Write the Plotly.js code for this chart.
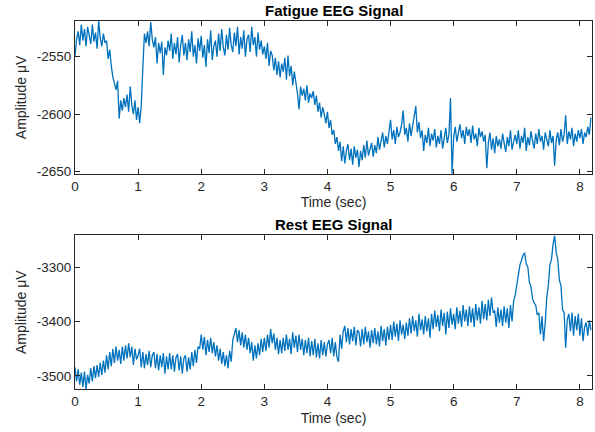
<!DOCTYPE html>
<html>
<head>
<meta charset="utf-8">
<script src="https://cdn.plot.ly/plotly-3.0.1.min.js"></script>
<style>html,body{margin:0;padding:0;background:#fff;}#chart{width:595px;height:432px;}</style>
</head>
<body>
<div id="chart"></div>
<script>
// Sampling step of the digitised signals (seconds)
const sampleStep = 0.025;

// Fatigue EEG amplitude (µV), every 0.025 s
const fatigueValues = [
-2550,-2535,-2528,-2540,-2522,-2536,-2526,-2541,-2524,-2533,
-2539,-2522,-2537,-2529,-2543,-2519,-2534,-2541,-2530,-2538,
-2536,-2552,-2544,-2558,-2568,-2573,-2579,-2571,-2604,-2588,
-2597,-2586,-2594,-2583,-2598,-2576,-2592,-2600,-2588,-2605,
-2594,-2608,-2592,-2560,-2530,-2538,-2528,-2541,-2520,-2535,
-2542,-2533,-2556,-2538,-2547,-2537,-2566,-2542,-2549,-2536,
-2545,-2530,-2552,-2538,-2548,-2533,-2555,-2540,-2531,-2549,
-2538,-2553,-2535,-2546,-2528,-2550,-2540,-2556,-2534,-2545,
-2532,-2551,-2540,-2559,-2535,-2547,-2527,-2553,-2541,-2536,
-2550,-2530,-2545,-2526,-2542,-2549,-2531,-2544,-2525,-2540,
-2546,-2529,-2541,-2524,-2548,-2533,-2543,-2527,-2550,-2535,
-2531,-2546,-2524,-2540,-2533,-2550,-2529,-2544,-2536,-2548,
-2541,-2552,-2538,-2558,-2545,-2549,-2562,-2551,-2566,-2554,
-2568,-2556,-2563,-2551,-2570,-2549,-2567,-2558,-2575,-2563,
-2572,-2582,-2596,-2576,-2584,-2578,-2588,-2575,-2590,-2582,
-2586,-2580,-2592,-2584,-2598,-2590,-2603,-2594,-2600,-2608,
-2598,-2612,-2605,-2618,-2614,-2626,-2620,-2632,-2624,-2641,
-2628,-2643,-2632,-2626,-2640,-2630,-2644,-2628,-2638,-2631,
-2646,-2632,-2640,-2627,-2638,-2623,-2636,-2630,-2625,-2637,
-2627,-2634,-2620,-2631,-2624,-2616,-2629,-2619,-2626,-2613,
-2605,-2622,-2614,-2626,-2611,-2620,-2616,-2609,-2597,-2618,
-2612,-2624,-2608,-2619,-2611,-2603,-2593,-2616,-2607,-2621,
-2614,-2632,-2618,-2625,-2612,-2628,-2617,-2623,-2613,-2629,
-2619,-2626,-2614,-2630,-2621,-2612,-2625,-2618,-2586,-2652,
-2620,-2611,-2624,-2616,-2609,-2621,-2614,-2626,-2611,-2619,
-2613,-2625,-2610,-2622,-2617,-2628,-2612,-2620,-2615,-2624,
-2618,-2647,-2625,-2616,-2631,-2621,-2634,-2619,-2628,-2622,
-2630,-2617,-2626,-2633,-2620,-2628,-2614,-2631,-2624,-2618,
-2626,-2614,-2630,-2619,-2625,-2612,-2632,-2620,-2627,-2615,
-2623,-2630,-2617,-2626,-2613,-2624,-2619,-2631,-2616,-2622,
-2628,-2614,-2625,-2619,-2645,-2622,-2616,-2627,-2613,-2624,
-2618,-2601,-2626,-2615,-2622,-2612,-2628,-2617,-2624,-2614,
-2621,-2613,-2626,-2616,-2620,-2611,-2618,-2603
];

// Rest EEG amplitude (µV), every 0.025 s
const restValues = [
-3484,-3510,-3488,-3516,-3494,-3520,-3492,-3524,-3498,-3514,
-3486,-3510,-3482,-3504,-3480,-3502,-3476,-3498,-3472,-3494,
-3462,-3488,-3456,-3482,-3450,-3476,-3446,-3472,-3452,-3478,
-3446,-3472,-3444,-3468,-3440,-3466,-3446,-3480,-3450,-3470,
-3462,-3450,-3484,-3456,-3486,-3460,-3480,-3454,-3484,-3462,
-3456,-3486,-3460,-3490,-3462,-3484,-3458,-3496,-3464,-3488,
-3458,-3488,-3462,-3492,-3466,-3460,-3490,-3464,-3496,-3468,
-3462,-3492,-3466,-3488,-3456,-3482,-3452,-3476,-3446,-3450,
-3424,-3452,-3428,-3462,-3434,-3456,-3430,-3458,-3438,-3464,
-3444,-3472,-3450,-3478,-3456,-3482,-3462,-3486,-3454,-3474,
-3434,-3420,-3412,-3438,-3416,-3444,-3420,-3448,-3424,-3452,
-3430,-3458,-3438,-3472,-3444,-3468,-3440,-3462,-3432,-3456,
-3430,-3454,-3424,-3448,-3414,-3440,-3422,-3452,-3430,-3460,
-3434,-3458,-3430,-3454,-3424,-3452,-3432,-3460,-3420,-3448,
-3426,-3456,-3424,-3452,-3432,-3462,-3434,-3458,-3430,-3464,
-3436,-3462,-3432,-3466,-3440,-3468,-3434,-3462,-3438,-3464,
-3442,-3434,-3458,-3430,-3464,-3438,-3466,-3474,-3424,-3450,
-3418,-3408,-3438,-3412,-3442,-3414,-3436,-3410,-3444,-3416,
-3420,-3446,-3414,-3442,-3410,-3438,-3418,-3448,-3416,-3440,
-3412,-3442,-3418,-3446,-3408,-3436,-3414,-3444,-3410,-3434,
-3406,-3434,-3400,-3428,-3404,-3436,-3398,-3424,-3406,-3432,
-3402,-3426,-3394,-3422,-3390,-3418,-3398,-3428,-3386,-3416,
-3396,-3424,-3390,-3418,-3394,-3430,-3386,-3414,-3380,-3410,
-3388,-3418,-3378,-3408,-3384,-3424,-3382,-3412,-3376,-3406,
-3386,-3414,-3374,-3404,-3380,-3410,-3370,-3400,-3378,-3408,
-3372,-3402,-3376,-3410,-3368,-3398,-3374,-3404,-3362,-3396,
-3368,-3398,-3360,-3390,-3356,-3384,-3380,-3410,-3374,-3402,
-3378,-3408,-3372,-3402,-3376,-3412,-3370,-3400,-3362,-3352,
-3332,-3314,-3296,-3288,-3278,-3274,-3294,-3300,-3328,-3336,
-3358,-3366,-3370,-3388,-3384,-3424,-3390,-3436,-3404,-3356,
-3334,-3296,-3286,-3258,-3242,-3274,-3286,-3324,-3334,-3378,
-3384,-3448,-3396,-3386,-3418,-3384,-3426,-3390,-3416,-3386,
-3426,-3394,-3436,-3410,-3402,-3426,-3398,-3416
];

// Tick labels / titles
const xTicks = [0,1,2,3,4,5,6,7,8];
const fatigueTicks = [-2650,-2600,-2550];
const fatigueTickText = ['-2650','-2600','-2550'];
const restTicks = [-3500,-3400,-3300];
const restTickText = ['-3500','-3400','-3300'];
const fatigueTitle = 'Fatigue EEG Signal';
const restTitle = 'Rest EEG Signal';
const xLabel = 'Time (sec)';
const yLabel = 'Amplitude μV';

const tF = fatigueValues.map((_, i) => +(i * sampleStep).toFixed(3));
const tR = restValues.map((_, i) => +(i * sampleStep).toFixed(3));

const lineStyle = {color: '#0072BD', width: 1.3};
const axisColor = '#262626';
const font = 'Liberation Sans, Arial, sans-serif';

function xAxis(anchor) {
  return {
    anchor: anchor, range: [0, 8.192], tickvals: xTicks, ticks: 'inside', ticklen: 5,
    tickcolor: axisColor, showline: true, linecolor: axisColor, linewidth: 1, mirror: 'ticks',
    showgrid: false, zeroline: false, tickfont: {family: font, size: 13.5, color: axisColor},
    title: {text: xLabel, font: {family: font, size: 14, color: axisColor}, standoff: 4}
  };
}
function yAxis(anchor, domain, range, ticks, text) {
  return {
    anchor: anchor, domain: domain, range: range, tickvals: ticks, ticktext: text, ticks: 'inside', ticklen: 5,
    tickcolor: axisColor, showline: true, linecolor: axisColor, linewidth: 1, mirror: 'ticks',
    showgrid: false, zeroline: false, tickfont: {family: font, size: 13.5, color: axisColor},
    title: {text: yLabel, font: {family: font, size: 14, color: axisColor}, standoff: 6}
  };
}

const data = [
  {x: tF, y: fatigueValues, type: 'scatter', mode: 'lines', line: lineStyle, xaxis: 'x', yaxis: 'y'},
  {x: tR, y: restValues, type: 'scatter', mode: 'lines', line: lineStyle, xaxis: 'x2', yaxis: 'y2'}
];

const layout = {
  width: 595, height: 432, showlegend: false,
  paper_bgcolor: '#fff', plot_bgcolor: '#fff',
  margin: {l: 75, r: 3, t: 21, b: 43},
  xaxis: xAxis('y'),
  yaxis: yAxis('x', [0.5846, 1], [-2652, -2519], fatigueTicks, fatigueTickText),
  xaxis2: xAxis('y2'),
  yaxis2: yAxis('x2', [0, 0.4173], [-3524, -3242], restTicks, restTickText),
  annotations: [
    {text: '<b>' + fatigueTitle + '</b>', xref: 'paper', yref: 'paper', x: 0.5, y: 1, xanchor: 'center', yanchor: 'bottom', showarrow: false, yshift: 0, font: {family: font, size: 15, color: '#000'}},
    {text: '<b>' + restTitle + '</b>', xref: 'paper', yref: 'paper', x: 0.5, y: 0.4173, xanchor: 'center', yanchor: 'bottom', showarrow: false, yshift: 0, font: {family: font, size: 15, color: '#000'}}
  ]
};

Plotly.newPlot('chart', data, layout, {staticPlot: true, displayModeBar: false});
</script>
</body>
</html>
